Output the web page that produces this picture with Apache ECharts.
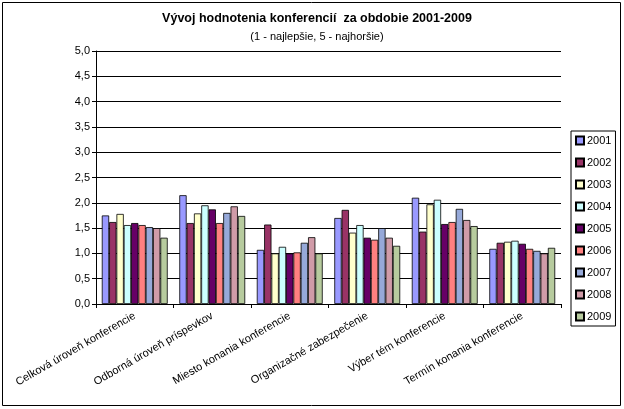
<!DOCTYPE html>
<html><head><meta charset="utf-8">
<script src="https://cdn.jsdelivr.net/npm/echarts@6/dist/echarts.min.js"></script>
<style>html,body{margin:0;padding:0;background:#fff}#c{width:624px;height:409px}</style>
</head><body><div id="c"></div>
<script>
const categories = ["Celková úroveň konferencie","Odborná úroveň príspevkov","Miesto konania konferencie","Organizačné zabezpečenie","Výber tém konferencie","Termín konania konferencie"];
const years = ["2001","2002","2003","2004","2005","2006","2007","2008","2009"];
const s2001 = [1.75, 2.15, 1.07, 1.70, 2.10, 1.09];
const s2002 = [1.62, 1.60, 1.57, 1.86, 1.43, 1.21];
const s2003 = [1.78, 1.79, 1.00, 1.41, 1.97, 1.23];
const s2004 = [1.56, 1.95, 1.13, 1.56, 2.06, 1.25];
const s2005 = [1.60, 1.87, 1.00, 1.31, 1.58, 1.19];
const s2006 = [1.56, 1.60, 1.02, 1.27, 1.62, 1.09];
const s2007 = [1.52, 1.80, 1.21, 1.50, 1.88, 1.05];
const s2008 = [1.50, 1.93, 1.32, 1.31, 1.66, 1.00];
const s2009 = [1.31, 1.74, 1.00, 1.15, 1.54, 1.11];
const seriesData = [s2001,s2002,s2003,s2004,s2005,s2006,s2007,s2008,s2009];
const colors = ["#9999FF","#993366","#FFFFCC","#CCFFFF","#660066","#FF8080","#96A9D9","#D09BA8","#B7CB9E"];
const yTicks = {min:0, max:5, interval:0.5};

const chart = echarts.init(document.getElementById('c'), null, {renderer:'canvas'});
const FONT = 'Liberation Sans, Arial, sans-serif';
chart.setOption({
  animation:false,
  backgroundColor:'#fff',
  title:{
    text:'Vývoj hodnotenia konferencií  za obdobie 2001-2009',
    subtext:'(1 - najlepšie, 5 - najhoršie)',
    left:312, textAlign:'center', top:7, itemGap:6,
    textStyle:{fontFamily:FONT, fontSize:12.5, fontWeight:'bold', color:'#000'},
    subtextStyle:{fontFamily:FONT, fontSize:11, color:'#000'}
  },
  graphic:[{type:'rect', shape:{x:2.5,y:2.5,width:618,height:403}, style:{fill:'none', stroke:'#000', lineWidth:1}, silent:true, z:-1}],
  legend:{
    orient:'vertical', left:571, top:131, width:42,
    padding:[4,4,4,4],
    borderColor:'#000', borderWidth:1,
    itemWidth:8, itemHeight:8, itemGap:11,
    textStyle:{fontFamily:FONT, fontSize:11, color:'#000', padding:[0,0,0,-2]},
    data: years.map(y=>({name:y, icon:'rect'}))
  },
  grid:{left:96, right:63, top:51, bottom:105},
  xAxis:{
    type:'category', data:categories,
    axisLine:{lineStyle:{color:'#000', width:1}},
    axisTick:{show:true, alignWithLabel:false, length:4, lineStyle:{color:'#000'}},
    axisLabel:{interval:0, rotate:30, margin:11, fontFamily:FONT, fontSize:11, color:'#000'}
  },
  yAxis:{
    type:'value', min:yTicks.min, max:yTicks.max, interval:yTicks.interval,
    axisLine:{show:true, lineStyle:{color:'#000'}},
    axisTick:{show:true, length:4, lineStyle:{color:'#000'}},
    splitLine:{show:true, lineStyle:{color:'#000', width:1}},
    axisLabel:{fontFamily:FONT, fontSize:11, color:'#000', margin:6, formatter:v=>v.toFixed(1).replace('.',',')}
  },
  series: years.map((y,i)=>({
    name:y, type:'bar', data:seriesData[i],
    barGap:'0%', barCategoryGap:'15%',
    itemStyle:{color:colors[i], borderColor:'#000', borderWidth:0.8}
  }))
});
</script></body></html>
